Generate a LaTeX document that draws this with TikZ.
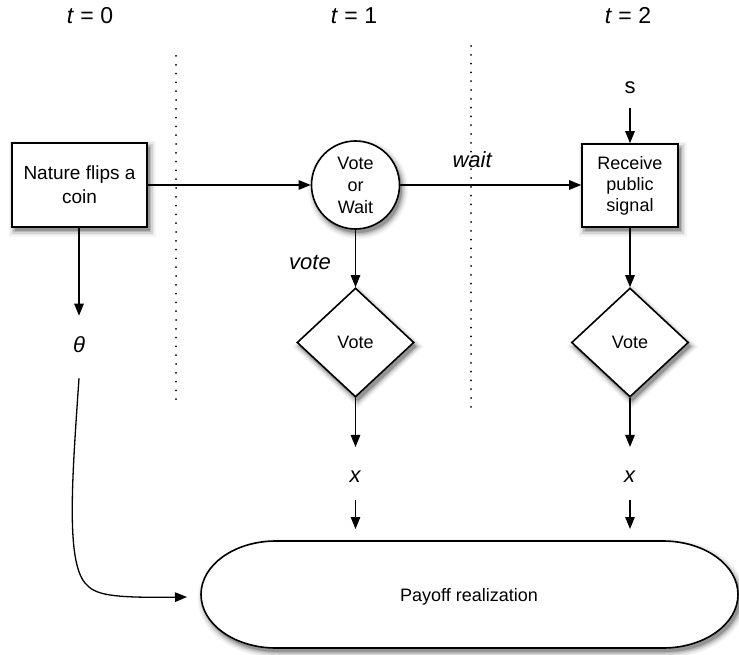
\documentclass[tikz,border=0pt]{standalone}
\usepackage{fontspec}
\setmainfont{Liberation Sans}
\usetikzlibrary{arrows.meta,shapes.geometric}

\begin{document}
\begin{tikzpicture}[x=1pt,y=-1pt,
  outlined/.style={draw=black, line width=1.6pt, fill=white},
  shadelayer/.style={draw=none, fill=black!#1, inner sep=0pt},
  boxtext/.style={font=\fontsize{18}{24}\selectfont, align=center, inner sep=0pt},
  boxshape/.style={rectangle, minimum width=135pt, minimum height=84pt},
  sigshape/.style={rectangle, minimum width=96pt, minimum height=83pt},
  circshape/.style={circle, minimum size=88pt},
  diashape/.style={diamond, minimum width=117pt, minimum height=109pt},
  varlabel/.style={font=\fontsize{22}{24}\selectfont, inner sep=0pt},
  timelabel/.style={font=\fontsize{23}{24}\selectfont, inner sep=0pt},
  flow/.style={line width=1.3pt, -{Triangle[length=12pt,width=9.5pt]}},
  period/.style={line width=2pt, line cap=round, dash pattern=on 0pt off 8.8pt},
]
\useasboundingbox (0,0) rectangle (739,655);

% time headings
\node[timelabel] (t0) at (90,16) {\textit{t} = 0};
\node[timelabel] (t1) at (354,16) {\textit{t} = 1};
\node[timelabel] (t2) at (628,16) {\textit{t} = 2};

% period separators
\coordinate (sepAtop) at (176,56);
\coordinate (sepAbot) at (176,406);
\coordinate (sepBtop) at (471,46);
\coordinate (sepBbot) at (471,411);
\draw[period] (sepAtop) -- (sepAbot);
\draw[period] (sepBtop) -- (sepBbot);

% soft drop shadows: nested, growing, lighter layers offset down-right
\foreach \k/\c in {6/4,4.5/9,3/17,1.5/28,0/42}{
  \node[shadelayer=\c, rectangle, minimum width={(135+2*\k)*1pt}, minimum height={(84+2*\k)*1pt}]
    (natureShade) at (79.5+2.5,185+4) {};
  \node[shadelayer=\c, circle, minimum size={(88+2*\k)*1pt}]
    (vwShade) at (355.5+2.5,185+4) {};
  \node[shadelayer=\c, rectangle, minimum width={(96+2*\k)*1pt}, minimum height={(83+2*\k)*1pt}]
    (signalShade) at (630+2.5,185.5+4) {};
  \node[shadelayer=\c, diamond, minimum width={(117+2.4*\k)*1pt}, minimum height={(109+2.4*\k)*1pt}]
    (voteOneShade) at (355.5+2.5,342.5+4) {};
  \node[shadelayer=\c, diamond, minimum width={(117+2.4*\k)*1pt}, minimum height={(109+2.4*\k)*1pt}]
    (voteTwoShade) at (630+2.5,342.5+4) {};
  \begin{scope}[shift={(2.5,4)}]
    \fill[black!\c] (276,541-\k) -- (663,541-\k)
      arc[start angle=-90, end angle=90, x radius={75+\k}, y radius={53.5+\k}]
      -- (276,648+\k)
      arc[start angle=90, end angle=270, x radius={75+\k}, y radius={53.5+\k}] -- cycle;
  \end{scope}
}

% payoff stadium
\draw[outlined] (276,541) -- (663,541)
  arc[start angle=-90, end angle=90, x radius=75, y radius=53.5]
  -- (276,648)
  arc[start angle=90, end angle=270, x radius=75, y radius=53.5] -- cycle;
\node[boxtext] (payoff) at (469,597) {Payoff realization};
\coordinate (payIn) at (187,597);
\coordinate (payTop1) at (355.5,529);
\coordinate (payTop2) at (630,529);

% process shapes
\node[outlined, boxshape, boxtext, font=\fontsize{19}{24}\selectfont] (nature) at (79.5,185) {Nature flips a\\coin};
\node[outlined, circshape, boxtext, font=\fontsize{18}{22}\selectfont] (vw) at (355.5,185) {Vote\\or\\Wait};
\node[outlined, sigshape, boxtext, font=\fontsize{18}{21}\selectfont] (signal) at (630,185.5) {Receive\\public\\signal};
\node[outlined, diashape, boxtext] (vote1) at (355.5,342.5) {Vote};
\node[outlined, diashape, boxtext] (vote2) at (630,342.5) {Vote};

% variable labels
\node[varlabel] (theta) at (79,345) {\textit{θ}};
\node[varlabel] (s) at (630,88) {s};
\node[varlabel] (x1) at (355.5,477) {\textit{x}};
\node[varlabel] (x2) at (630,477) {\textit{x}};
\node[varlabel, anchor=east] (votelab) at (331,262) {\textit{vote}};
\node[varlabel] (waitlab) at (472.5,160) {\textit{wait}};

% connectors
\draw[flow] (nature.east |- vw.west) -- (vw.west);
\draw[flow] (vw.east) -- (vw.east -| signal.west);
\draw[flow] ([yshift=-14pt]s.south) -- (signal.north);
\draw[flow] (vw.south) -- (vote1.north);
\draw[flow] (signal.south) -- (vote2.north);
\draw[flow] (vote1.south) -- ([yshift=24pt]x1.north);
\draw[flow] (vote2.south) -- ([yshift=24pt]x2.north);
\draw[flow] ([yshift=-17pt]x1.south) -- (payTop1);
\draw[flow] ([yshift=-17pt]x2.south) -- (payTop2);
\draw[flow] (nature.south -| theta) -- ([yshift=21pt]theta.north);
\draw[flow] ([yshift=-25pt]theta.south)
  .. controls (72,480) and (66,560) .. (85,583)
  .. controls (95,595) and (110,598) .. (payIn);
\end{tikzpicture}
\end{document}
